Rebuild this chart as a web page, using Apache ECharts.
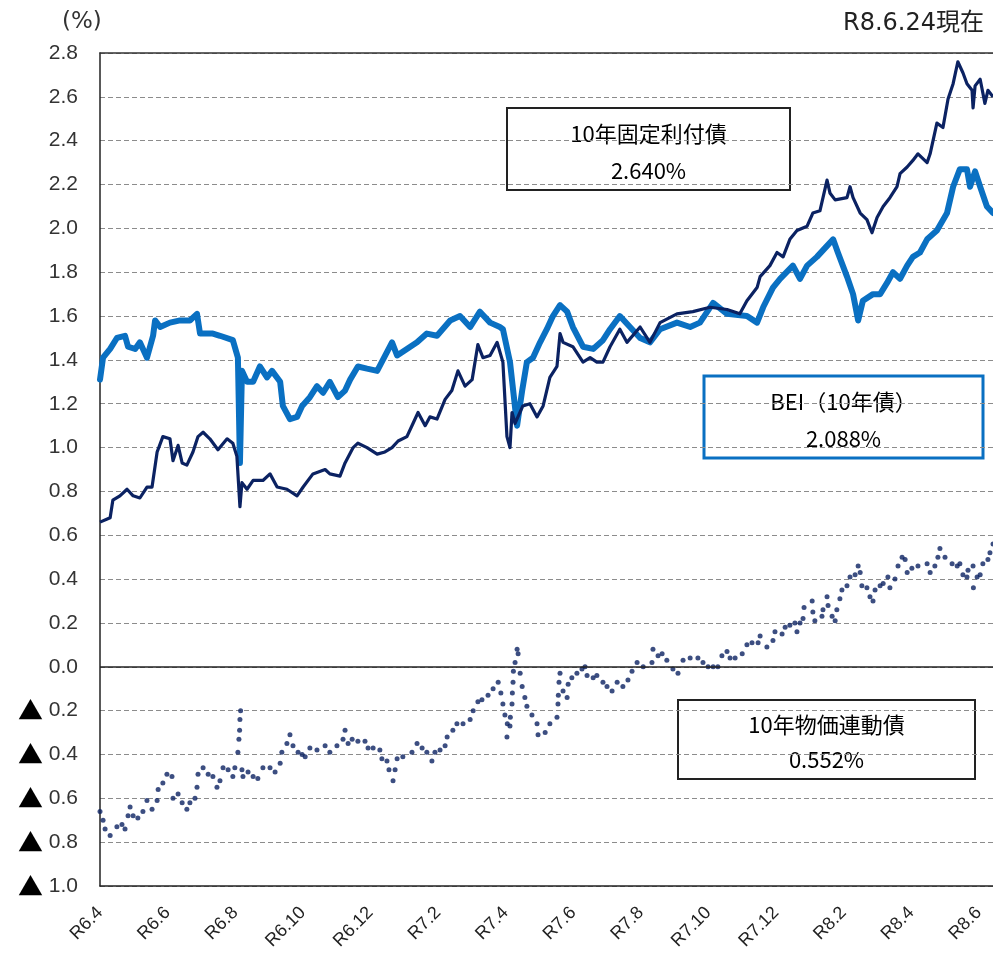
<!DOCTYPE html>
<html>
<head>
<meta charset="utf-8" />
<title>10年債利回り・BEI</title>
<script src="https://cdn.jsdelivr.net/npm/echarts@6/dist/echarts.min.js"></script>
<style>
  html, body { margin: 0; padding: 0; background: #fff; }
  #main { width: 993px; height: 975px; }
</style>
</head>
<body>
<div id="main"></div>
<script>
// x = months since R6.4 (R6.4 = 0), y = %
var tickLabels = ['R6.4', 'R6.6', 'R6.8', 'R6.10', 'R6.12', 'R7.2', 'R7.4',
  'R7.6', 'R7.8', 'R7.10', 'R7.12', 'R8.2', 'R8.4', 'R8.6'];

// 10年固定利付債
var fixedRate = [
  [0.00, 0.66], [0.30, 0.68], [0.38, 0.76], [0.59, 0.78], [0.80, 0.81], [0.98, 0.78],
  [1.18, 0.77], [1.39, 0.82], [1.54, 0.82], [1.69, 0.98], [1.86, 1.05], [2.07, 1.04],
  [2.16, 0.94], [2.31, 1.01], [2.43, 0.93], [2.57, 0.92], [2.75, 0.98], [2.90, 1.05],
  [3.05, 1.07], [3.25, 1.04], [3.49, 0.99], [3.76, 1.04], [3.93, 1.02], [4.05, 0.96],
  [4.14, 0.73], [4.20, 0.84], [4.35, 0.81], [4.53, 0.85], [4.82, 0.85], [5.03, 0.88],
  [5.24, 0.82], [5.53, 0.81], [5.83, 0.78], [6.01, 0.82], [6.30, 0.88], [6.66, 0.90],
  [6.80, 0.88], [7.10, 0.87], [7.25, 0.93], [7.49, 1.00], [7.63, 1.02], [7.90, 1.00],
  [8.20, 0.97], [8.43, 0.98], [8.64, 1.00], [8.82, 1.03], [9.08, 1.05], [9.26, 1.11],
  [9.41, 1.16], [9.62, 1.10], [9.76, 1.14], [9.97, 1.13], [10.21, 1.22], [10.41, 1.26],
  [10.59, 1.35], [10.80, 1.28], [11.01, 1.31], [11.18, 1.47], [11.33, 1.41], [11.54, 1.42],
  [11.75, 1.48], [11.92, 1.39], [12.04, 1.05], [12.13, 1.00], [12.19, 1.16], [12.28, 1.11],
  [12.51, 1.19], [12.72, 1.20], [12.93, 1.14], [13.11, 1.19], [13.31, 1.32], [13.52, 1.37],
  [13.61, 1.52], [13.70, 1.48], [13.99, 1.46], [14.29, 1.39], [14.50, 1.41], [14.70, 1.39],
  [14.88, 1.39], [15.09, 1.46], [15.38, 1.54], [15.59, 1.48], [15.98, 1.55], [16.27, 1.48],
  [16.57, 1.57], [17.07, 1.61], [17.54, 1.62], [18.05, 1.64], [18.55, 1.63], [18.93, 1.61],
  [19.14, 1.67], [19.44, 1.73], [19.53, 1.78], [19.82, 1.83], [20.03, 1.89], [20.21, 1.87],
  [20.41, 1.95], [20.62, 1.99], [20.92, 2.01], [21.09, 2.07], [21.30, 2.08], [21.51, 2.22],
  [21.60, 2.16], [21.75, 2.13], [22.10, 2.14], [22.19, 2.19], [22.28, 2.14], [22.49, 2.07],
  [22.69, 2.04], [22.84, 1.98], [22.99, 2.05], [23.17, 2.10], [23.37, 2.14], [23.58, 2.19],
  [23.67, 2.25], [23.88, 2.28], [24.05, 2.31], [24.20, 2.34], [24.47, 2.30], [24.56, 2.34],
  [24.76, 2.48], [24.94, 2.46], [25.09, 2.59], [25.24, 2.66], [25.38, 2.76], [25.53, 2.71],
  [25.65, 2.66], [25.80, 2.63], [25.83, 2.55], [25.89, 2.65], [26.04, 2.68], [26.18, 2.57],
  [26.27, 2.63], [26.42, 2.60]
];

// BEI（10年債）
var bei = [
  [0.00, 1.31], [0.09, 1.41], [0.30, 1.45], [0.50, 1.50], [0.74, 1.51], [0.83, 1.46],
  [1.04, 1.45], [1.18, 1.48], [1.39, 1.41], [1.57, 1.51], [1.63, 1.58], [1.78, 1.55],
  [2.07, 1.57], [2.37, 1.58], [2.66, 1.58], [2.87, 1.61], [2.96, 1.52], [3.34, 1.52],
  [3.55, 1.51], [3.93, 1.49], [4.08, 1.41], [4.14, 0.93], [4.20, 1.35], [4.35, 1.30],
  [4.53, 1.30], [4.73, 1.37], [4.94, 1.32], [5.09, 1.35], [5.33, 1.30], [5.41, 1.19],
  [5.62, 1.13], [5.83, 1.14], [5.98, 1.19], [6.21, 1.23], [6.42, 1.28], [6.60, 1.25],
  [6.80, 1.30], [7.04, 1.23], [7.25, 1.26], [7.40, 1.31], [7.63, 1.37], [7.90, 1.36],
  [8.20, 1.35], [8.37, 1.40], [8.64, 1.48], [8.79, 1.42], [9.08, 1.45], [9.38, 1.48],
  [9.67, 1.52], [9.97, 1.51], [10.36, 1.58], [10.65, 1.60], [10.95, 1.55], [11.24, 1.62],
  [11.54, 1.57], [11.83, 1.55], [11.92, 1.54], [12.13, 1.39], [12.34, 1.10], [12.49, 1.26],
  [12.63, 1.39], [12.81, 1.41], [13.02, 1.48], [13.22, 1.54], [13.40, 1.60], [13.61, 1.65],
  [13.82, 1.62], [13.99, 1.55], [14.29, 1.46], [14.59, 1.45], [14.88, 1.49], [15.09, 1.54],
  [15.38, 1.60], [15.68, 1.55], [15.98, 1.50], [16.27, 1.48], [16.57, 1.54], [17.07, 1.57],
  [17.46, 1.55], [17.75, 1.57], [18.14, 1.66], [18.55, 1.61], [19.14, 1.60], [19.44, 1.57],
  [19.62, 1.64], [19.91, 1.73], [20.12, 1.77], [20.50, 1.83], [20.71, 1.77], [20.92, 1.83],
  [21.21, 1.87], [21.51, 1.92], [21.69, 1.95], [21.83, 1.89], [22.10, 1.78], [22.28, 1.70],
  [22.43, 1.58], [22.57, 1.67], [22.87, 1.70], [23.08, 1.70], [23.28, 1.75], [23.46, 1.80],
  [23.67, 1.77], [23.88, 1.83], [24.05, 1.87], [24.26, 1.89], [24.47, 1.95], [24.76, 1.99],
  [25.06, 2.07], [25.24, 2.19], [25.44, 2.27], [25.65, 2.27], [25.74, 2.19], [25.89, 2.26],
  [26.04, 2.19], [26.24, 2.10], [26.42, 2.07]
];

// 10年物価連動債
var indexLinked = [
  [0.00, -0.66], [0.09, -0.70], [0.15, -0.74], [0.30, -0.77], [0.50, -0.73], [0.65, -0.72],
  [0.74, -0.74], [0.83, -0.68], [0.89, -0.64], [0.98, -0.68], [1.12, -0.69], [1.27, -0.66],
  [1.39, -0.61], [1.54, -0.65], [1.69, -0.61], [1.72, -0.56], [1.86, -0.53], [1.98, -0.49],
  [2.13, -0.50], [2.16, -0.60], [2.31, -0.58], [2.43, -0.62], [2.57, -0.65], [2.66, -0.62],
  [2.81, -0.60], [2.87, -0.55], [2.90, -0.49], [3.05, -0.46], [3.20, -0.49], [3.34, -0.50],
  [3.46, -0.55], [3.55, -0.52], [3.64, -0.46], [3.79, -0.47], [3.93, -0.50], [3.99, -0.46],
  [4.08, -0.39], [4.11, -0.33], [4.13, -0.29], [4.14, -0.24], [4.16, -0.20], [4.20, -0.47],
  [4.23, -0.50], [4.38, -0.48], [4.53, -0.50], [4.67, -0.51], [4.82, -0.46], [5.03, -0.46],
  [5.18, -0.48], [5.33, -0.44], [5.38, -0.39], [5.53, -0.35], [5.62, -0.31], [5.71, -0.36],
  [5.86, -0.39], [5.98, -0.40], [6.07, -0.41], [6.21, -0.37], [6.42, -0.38], [6.66, -0.36],
  [6.80, -0.39], [7.01, -0.36], [7.19, -0.33], [7.25, -0.29], [7.34, -0.35], [7.46, -0.33],
  [7.63, -0.34], [7.84, -0.34], [7.93, -0.37], [8.08, -0.37], [8.28, -0.38], [8.34, -0.42],
  [8.49, -0.43], [8.55, -0.47], [8.67, -0.52], [8.73, -0.47], [8.79, -0.42], [8.96, -0.41],
  [9.23, -0.39], [9.38, -0.35], [9.53, -0.37], [9.67, -0.39], [9.82, -0.43], [9.91, -0.39],
  [10.06, -0.38], [10.21, -0.36], [10.27, -0.32], [10.44, -0.29], [10.56, -0.26], [10.74, -0.26],
  [10.95, -0.24], [11.04, -0.20], [11.18, -0.16], [11.30, -0.15], [11.48, -0.13], [11.63, -0.10],
  [11.78, -0.07], [11.86, -0.12], [11.92, -0.17], [11.98, -0.22], [12.04, -0.32], [12.05, -0.26],
  [12.13, -0.27], [12.14, -0.23], [12.19, -0.17], [12.20, -0.12], [12.22, -0.07], [12.23, -0.02],
  [12.28, 0.02], [12.34, 0.08], [12.37, 0.06], [12.43, -0.03], [12.49, -0.09], [12.57, -0.14],
  [12.63, -0.18], [12.78, -0.22], [12.93, -0.26], [12.96, -0.31], [13.17, -0.30], [13.31, -0.26],
  [13.52, -0.23], [13.55, -0.17], [13.56, -0.13], [13.58, -0.07], [13.61, -0.03], [13.70, -0.11],
  [13.82, -0.14], [13.85, -0.08], [13.96, -0.05], [14.11, -0.03], [14.26, -0.01], [14.35, 0.00],
  [14.41, -0.04], [14.59, -0.05], [14.70, -0.04], [14.88, -0.07], [15.00, -0.09], [15.15, -0.11],
  [15.30, -0.07], [15.47, -0.09], [15.62, -0.06], [15.74, -0.02], [15.89, 0.02], [16.07, 0.00],
  [16.33, 0.02], [16.36, 0.08], [16.51, 0.05], [16.63, 0.06], [16.77, 0.03], [16.95, -0.01],
  [17.10, -0.03], [17.25, 0.03], [17.46, 0.04], [17.69, 0.04], [17.84, 0.02], [17.99, 0.00],
  [18.14, 0.00], [18.28, 0.00], [18.40, 0.05], [18.55, 0.07], [18.64, 0.04], [18.79, 0.04],
  [19.00, 0.06], [19.14, 0.10], [19.29, 0.11], [19.47, 0.11], [19.53, 0.14], [19.73, 0.09],
  [19.91, 0.12], [19.97, 0.16], [20.18, 0.15], [20.27, 0.18], [20.41, 0.19], [20.56, 0.20],
  [20.62, 0.16], [20.71, 0.20], [20.80, 0.22], [20.83, 0.27], [21.07, 0.30], [21.09, 0.25],
  [21.15, 0.21], [21.36, 0.23], [21.39, 0.26], [21.51, 0.32], [21.54, 0.28], [21.66, 0.23],
  [21.75, 0.21], [21.80, 0.26], [21.89, 0.31], [21.95, 0.35], [22.10, 0.37], [22.19, 0.41],
  [22.34, 0.42], [22.43, 0.46], [22.49, 0.43], [22.54, 0.37], [22.69, 0.36], [22.78, 0.32],
  [22.87, 0.30], [22.93, 0.35], [23.08, 0.37], [23.17, 0.38], [23.31, 0.41], [23.37, 0.36],
  [23.52, 0.40], [23.61, 0.46], [23.73, 0.50], [23.82, 0.49], [23.88, 0.43], [24.02, 0.45],
  [24.20, 0.46], [24.47, 0.47], [24.56, 0.43], [24.70, 0.46], [24.79, 0.50], [24.85, 0.54],
  [25.00, 0.50], [25.21, 0.47], [25.36, 0.46], [25.44, 0.47], [25.53, 0.42], [25.65, 0.41],
  [25.68, 0.44], [25.83, 0.46], [25.84, 0.36], [25.95, 0.41], [26.04, 0.42], [26.12, 0.47],
  [26.27, 0.49], [26.33, 0.52], [26.42, 0.56]
];

var latestFixed = '2.640%';
var latestBei = '2.088%';
var latestIndex = '0.552%';

var NAVY = '#0b2262';
var BLUE = '#0a70c2';
var LABEL_FONT = 'Liberation Sans, Arial, Noto Sans CJK JP, sans-serif';
var BOX_FONT = '"Noto Sans CJK JP", sans-serif';

// 注記ボックス
function noteBox(x, y, w, h, border, bw, line1, line2) {
  var cx = x + w / 2;
  return {
    type: 'group',
    z: 100,
    children: [
      { type: 'rect', shape: { x: x, y: y, width: w, height: h },
        style: { fill: '#fff', stroke: border, lineWidth: bw } },
      { type: 'text', x: cx, y: y + h * 0.31,
        style: { text: line1, font: '22px ' + BOX_FONT, fill: '#000',
          align: 'center', verticalAlign: 'middle', textAlign: 'center', textVerticalAlign: 'middle' } },
      { type: 'text', x: cx, y: y + h * 0.76,
        style: { text: line2, font: '22px ' + BOX_FONT, fill: '#000',
          align: 'center', verticalAlign: 'middle', textAlign: 'center', textVerticalAlign: 'middle' } }
    ]
  };
}

var myChart = echarts.init(document.getElementById('main'));

myChart.setOption({
  animation: false,
  backgroundColor: '#fff',
  grid: { left: 100, right: 0, top: 53, bottom: 89, containLabel: false, outerBoundsMode: 'none' },
  xAxis: [{
    type: 'value',
    min: 0,
    max: 26.42,
    interval: 2,
    position: 'bottom',
    axisLine: { onZero: false, lineStyle: { color: '#222', width: 1.5 } },
    axisTick: { show: false },
    splitLine: { show: false },
    axisLabel: {
      rotate: 45,
      margin: 24,
      color: '#222',
      fontSize: 18,
      fontFamily: LABEL_FONT,
      formatter: function (v) { return tickLabels[Math.round(v / 2)] || ''; }
    }
  }, {
    // 上枠
    type: 'value',
    min: 0,
    max: 26.42,
    position: 'top',
    axisLine: { onZero: false, lineStyle: { color: '#333', width: 1.5 } },
    axisTick: { show: false },
    axisLabel: { show: false },
    splitLine: { show: false }
  }],
  yAxis: {
    type: 'value',
    min: -1.0,
    max: 2.8,
    interval: 0.2,
    axisLine: { show: true, onZero: false, lineStyle: { color: '#222', width: 1.5 } },
    axisTick: { show: false },
    splitLine: { show: true, lineStyle: { color: '#8c8c8c', type: [5, 3], width: 1 } },
    axisLabel: {
      margin: 22,
      color: '#333',
      fontSize: 21,
      fontFamily: LABEL_FONT,
      formatter: function (v) {
        var a = Math.abs(v).toFixed(1);
        return v < -0.01 ? '{t|▲} ' + a : a;
      },
      rich: {
        t: { fontFamily: '"Noto Sans CJK JP", sans-serif', fontSize: 25, color: '#000' }
      }
    }
  },
  series: [{
    name: 'BEI（10年債）',
    type: 'line',
    data: bei,
    showSymbol: false,
    z: 2,
    lineStyle: { color: BLUE, width: 6, join: 'round', cap: 'round' },
    markLine: {
      silent: true,
      symbol: 'none',
      label: { show: false },
      lineStyle: { color: '#222', type: 'solid', width: 1.5 },
      data: [{ yAxis: 0 }]
    }
  }, {
    name: '10年固定利付債',
    type: 'line',
    data: fixedRate,
    showSymbol: false,
    z: 3,
    lineStyle: { color: NAVY, width: 3.2, join: 'round' }
  }, {
    name: '10年物価連動債',
    type: 'scatter',
    data: indexLinked,
    symbolSize: 5,
    z: 3,
    itemStyle: { color: NAVY }
  }],
  graphic: [
    { type: 'text', x: 62, y: 22,
      style: { text: '(%)', font: '23px "DejaVu Sans", sans-serif', fill: '#333',
        verticalAlign: 'middle', textVerticalAlign: 'middle' } },
    { type: 'text', x: 984, y: 24,
      style: { text: 'R8.6.24現在', font: '24px "DejaVu Sans", "Noto Sans CJK JP", sans-serif', fill: '#222',
        align: 'right', textAlign: 'right', verticalAlign: 'middle', textVerticalAlign: 'middle' } },
    noteBox(507, 108, 283, 82, '#222', 2, '10年固定利付債', latestFixed),
    noteBox(704, 376, 279, 82, BLUE, 3, 'BEI（10年債）', latestBei),
    noteBox(678, 700, 297, 79, '#222', 2, '10年物価連動債', latestIndex)
  ]
});
</script>
</body>
</html>
